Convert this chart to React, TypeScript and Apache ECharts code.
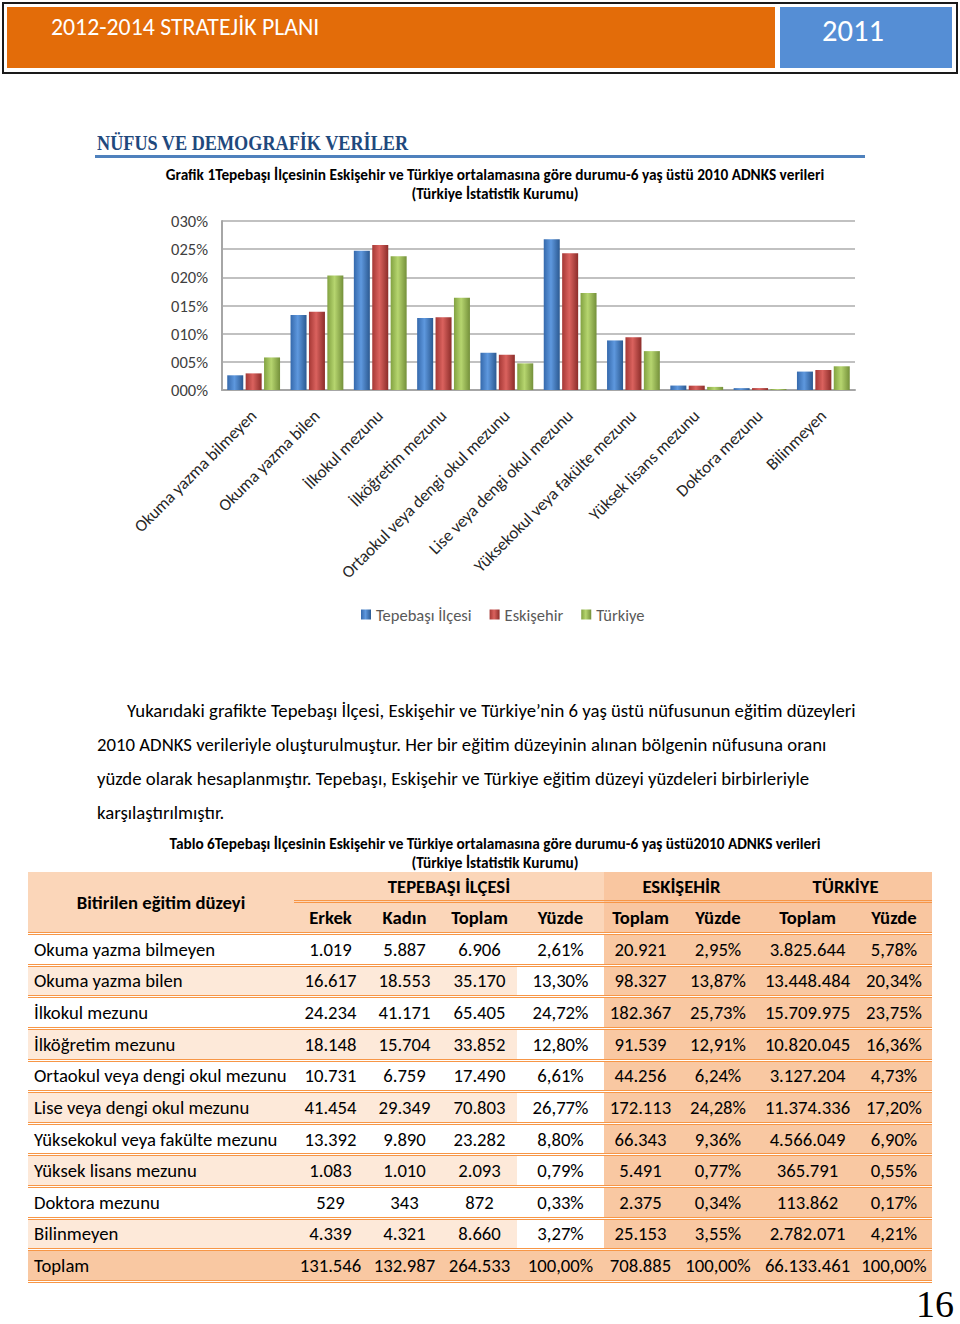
import React, { useEffect, useRef } from "react";
import * as echarts from "echarts";

const categories = [
  "Okuma yazma bilmeyen",
  "Okuma yazma bilen",
  "İlkokul mezunu",
  "İlköğretim mezunu",
  "Ortaokul veya dengi okul mezunu",
  "Lise veya dengi okul mezunu",
  "Yüksekokul veya fakülte mezunu",
  "Yüksek lisans mezunu",
  "Doktora mezunu",
  "Bilinmeyen",
];
const tepebasiPct = [2.61, 13.3, 24.72, 12.8, 6.61, 26.77, 8.8, 0.79, 0.33, 3.27];
const eskisehirPct = [2.95, 13.87, 25.73, 12.91, 6.24, 24.28, 9.36, 0.77, 0.34, 3.55];
const turkiyePct = [5.78, 20.34, 23.75, 16.36, 4.73, 17.2, 6.9, 0.55, 0.17, 4.21];
const seriesNames = ["Tepebaşı İlçesi", "Eskişehir", "Türkiye"];
const yTicks = { min: 0, max: 30, interval: 5 };

const tableLabels = [...categories, "Toplam"];
const tErkek = ["1.019", "16.617", "24.234", "18.148", "10.731", "41.454", "13.392", "1.083", "529", "4.339", "131.546"];
const tKadin = ["5.887", "18.553", "41.171", "15.704", "6.759", "29.349", "9.890", "1.010", "343", "4.321", "132.987"];
const tToplam = ["6.906", "35.170", "65.405", "33.852", "17.490", "70.803", "23.282", "2.093", "872", "8.660", "264.533"];
const tYuzde = ["2,61%", "13,30%", "24,72%", "12,80%", "6,61%", "26,77%", "8,80%", "0,79%", "0,33%", "3,27%", "100,00%"];
const eToplam = ["20.921", "98.327", "182.367", "91.539", "44.256", "172.113", "66.343", "5.491", "2.375", "25.153", "708.885"];
const eYuzde = ["2,95%", "13,87%", "25,73%", "12,91%", "6,24%", "24,28%", "9,36%", "0,77%", "0,34%", "3,55%", "100,00%"];
const trToplam = ["3.825.644", "13.448.484", "15.709.975", "10.820.045", "3.127.204", "11.374.336", "4.566.049", "365.791", "113.862", "2.782.071", "66.133.461"];
const trYuzde = ["5,78%", "20,34%", "23,75%", "16,36%", "4,73%", "17,20%", "6,90%", "0,55%", "0,17%", "4,21%", "100,00%"];
const subHeaders = ["Erkek", "Kadın", "Toplam", "Yüzde", "Toplam", "Yüzde", "Toplam", "Yüzde"];

const F = "Carlito, Lato, 'Open Sans', sans-serif";
const colW = [266, 73, 75, 75, 87, 73, 82, 97, 76];
const LIGHT = "#FDE9D9";
const DARK = "#F9C8A2";
const HLIGHT = "#FBD6B9";
const HDARK = "#F9C6A0";
const LINE = "3px double #F79646";

function grad(a: string, b: string, c: string) {
  return new echarts.graphic.LinearGradient(0, 0, 1, 0, [
    { offset: 0, color: a },
    { offset: 0.45, color: b },
    { offset: 1, color: c },
  ]);
}

function Chart() {
  const ref = useRef<HTMLDivElement>(null);
  useEffect(() => {
    if (!ref.current) return;
    const chart = echarts.init(ref.current, undefined, { renderer: "svg" });
    const colors = [
      grad("#3569AC", "#5E98DE", "#2B5991"),
      grad("#A53835", "#DA625E", "#8C2D2A"),
      grad("#82A241", "#B6D56F", "#74903A"),
    ];
    const data = [tepebasiPct, eskisehirPct, turkiyePct];
    chart.setOption({
      animation: false,
      title: {
        text: "Grafik 1Tepebaşı İlçesinin Eskişehir ve Türkiye ortalamasına göre durumu-6 yaş üstü 2010 ADNKS verileri\n(Türkiye İstatistik Kurumu)",
        left: 495,
        top: 5,
        padding: 0,
        textAlign: "center",
        textStyle: { fontFamily: F, fontSize: 15.3, fontWeight: "bold", color: "#000", lineHeight: 19 },
      },
      legend: {
        left: 361,
        top: 446,
        padding: 0,
        itemWidth: 10,
        itemHeight: 10,
        itemGap: 18,
        icon: "rect",
        textStyle: { fontFamily: F, fontSize: 16.5, color: "#595959" },
        data: seriesNames,
      },
      grid: { left: 222, right: 105, top: 61, bottom: 250 },
      xAxis: {
        type: "category",
        data: categories,
        axisLine: { lineStyle: { color: "#A6A6A6", width: 2 } },
        axisTick: { show: false },
        axisLabel: { rotate: 45, interval: 0, margin: 23, fontFamily: F, fontSize: 17, color: "#262626" },
      },
      yAxis: {
        type: "value",
        min: yTicks.min,
        max: yTicks.max,
        interval: yTicks.interval,
        axisLine: { show: true, lineStyle: { color: "#A6A6A6", width: 2 } },
        axisTick: { show: false },
        splitLine: { lineStyle: { color: "#ADADAD", width: 1.5 } },
        axisLabel: {
          margin: 14,
          fontFamily: F,
          fontSize: 16.5,
          color: "#404040",
          formatter: (v: number) => String(Math.round(v)).padStart(3, "0") + "%",
        },
      },
      series: seriesNames.map((n, i) => ({
        name: n,
        type: "bar",
        data: data[i],
        barWidth: 16,
        barGap: "15%",
        itemStyle: { color: colors[i] },
      })),
    });
    return () => chart.dispose();
  }, []);
  return <div ref={ref} style={{ position: "absolute", left: 0, top: 160, width: 960, height: 480 }} />;
}

const cellBase: React.CSSProperties = {
  boxSizing: "border-box",
  display: "flex",
  alignItems: "center",
  justifyContent: "center",
  height: "100%",
  whiteSpace: "nowrap",
};

function Table() {
  const rowH = 31.64;
  return (
    <div style={{ position: "absolute", left: 28, top: 872, width: 904, fontFamily: F, fontSize: 18.7, color: "#000" }}>
      <div style={{ position: "relative", height: 63, borderBottom: LINE, boxSizing: "border-box" }}>
        <div style={{ position: "absolute", left: 0, top: 0, width: 576, height: 60, background: HLIGHT }} />
        <div style={{ position: "absolute", left: 576, top: 0, width: 328, height: 60, background: HDARK }} />
        <div style={{ position: "absolute", left: 0, top: 0, width: 266, height: 60, display: "flex", alignItems: "center", justifyContent: "center", fontWeight: "bold" }}>
          Bitirilen eğitim düzeyi
        </div>
        <div style={{ position: "absolute", left: 266, top: 0, width: 638, height: 31, borderBottom: LINE, boxSizing: "border-box", display: "flex", fontWeight: "bold" }}>
          <div style={{ ...cellBase, width: 310 }}>TEPEBAŞI İLÇESİ</div>
          <div style={{ ...cellBase, width: 155 }}>ESKİŞEHİR</div>
          <div style={{ ...cellBase, width: 173 }}>TÜRKİYE</div>
        </div>
        <div style={{ position: "absolute", left: 266, top: 31, width: 638, height: 29, display: "flex", fontWeight: "bold" }}>
          {subHeaders.map((h, i) => (
            <div key={i} style={{ ...cellBase, width: colW[i + 1] }}>{h}</div>
          ))}
        </div>
      </div>
      {tableLabels.map((lab, r) => {
        const isTotal = r === tableLabels.length - 1;
        const leftBg = isTotal ? DARK : r % 2 === 1 ? LIGHT : "#FFFFFF";
        const yBg = isTotal ? DARK : "#FFFFFF";
        const vals = [tErkek[r], tKadin[r], tToplam[r], tYuzde[r], eToplam[r], eYuzde[r], trToplam[r], trYuzde[r]];
        return (
          <div key={r} style={{ display: "flex", height: rowH, borderBottom: LINE, boxSizing: "border-box" }}>
            <div style={{ ...cellBase, width: colW[0], justifyContent: "flex-start", paddingLeft: 6, background: leftBg }}>{lab}</div>
            {vals.map((v, i) => (
              <div
                key={i}
                style={{
                  ...cellBase,
                  width: colW[i + 1],
                  background: i < 3 ? leftBg : i === 3 ? yBg : DARK,
                }}
              >
                {v}
              </div>
            ))}
          </div>
        );
      })}
    </div>
  );
}

const paraLines = [
  { x: 127, t: "Yukarıdaki grafikte Tepebaşı İlçesi, Eskişehir ve Türkiye’nin 6 yaş üstü nüfusunun eğitim düzeyleri" },
  { x: 97, t: "2010 ADNKS verileriyle oluşturulmuştur. Her bir eğitim düzeyinin alınan bölgenin nüfusuna oranı" },
  { x: 97, t: "yüzde olarak hesaplanmıştır. Tepebaşı, Eskişehir ve Türkiye eğitim düzeyi yüzdeleri birbirleriyle" },
  { x: 97, t: "karşılaştırılmıştır." },
];

export default function App() {
  return (
    <div style={{ position: "absolute", left: 0, top: 0, width: 960, height: 1324, background: "#fff", fontFamily: F, overflow: "hidden" }}>
      <div style={{ position: "absolute", left: 2, top: 2, width: 952, height: 68, border: "2px solid #1a1a1a" }} />
      <div style={{ position: "absolute", left: 7, top: 7, width: 768, height: 61, background: "#E36C09" }} />
      <div style={{ position: "absolute", left: 780, top: 7, width: 172, height: 61, background: "#558ED5" }} />
      <div style={{ position: "absolute", left: 51, top: 12, color: "#fff", fontSize: 23.8, lineHeight: "30px", whiteSpace: "nowrap" }}>
        2012-2014 STRATEJİK PLANI
      </div>
      <div style={{ position: "absolute", left: 822, top: 13, color: "#fff", fontSize: 30.5, lineHeight: "36px" }}>2011</div>

      <div style={{ position: "absolute", left: 97, top: 130, color: "#1F497D", fontFamily: "'Liberation Serif', 'DejaVu Serif', serif", fontWeight: "bold", fontSize: 18.2, lineHeight: "26px", whiteSpace: "nowrap", transform: "scaleY(1.12)", transformOrigin: "left center" }}>
        NÜFUS VE DEMOGRAFİK VERİLER
      </div>
      <div style={{ position: "absolute", left: 95, top: 155, width: 770, height: 3, background: "#4F81BD" }} />

      <Chart />

      {paraLines.map((l, i) => (
        <div key={i} style={{ position: "absolute", left: l.x, top: 699 + i * 34, fontSize: 18.75, lineHeight: "24px", whiteSpace: "nowrap", color: "#000" }}>
          {l.t}
        </div>
      ))}

      <div style={{ position: "absolute", left: 0, width: 990, top: 834, textAlign: "center", fontSize: 15.3, fontWeight: "bold", lineHeight: "19px", color: "#000", whiteSpace: "nowrap" }}>
        Tablo 6Tepebaşı İlçesinin Eskişehir ve Türkiye ortalamasına göre durumu-6 yaş üstü2010 ADNKS verileri
        <br />
        (Türkiye İstatistik Kurumu)
      </div>

      <Table />

      <div style={{ position: "absolute", left: 916, top: 1284, fontSize: 38, lineHeight: "40px", fontFamily: "'Liberation Serif', serif", color: "#000" }}>16</div>
    </div>
  );
}
